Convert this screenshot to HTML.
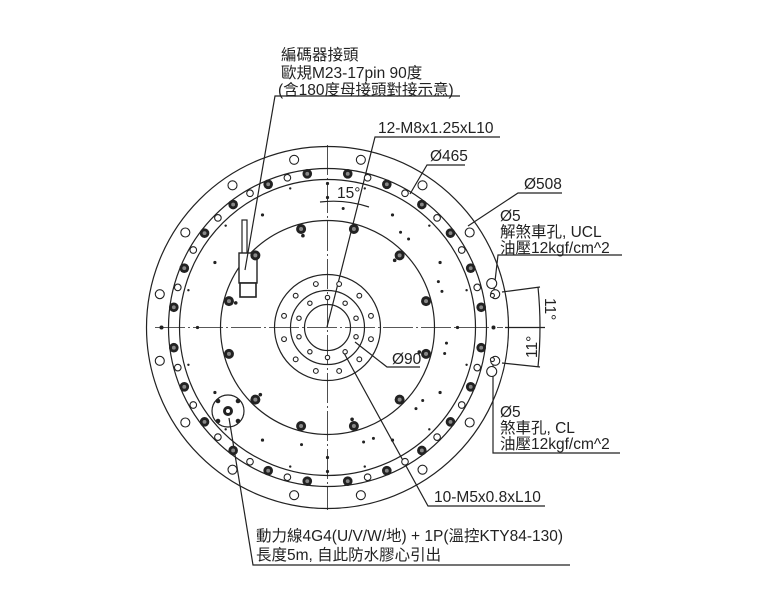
<!DOCTYPE html>
<html><head><meta charset="utf-8"><style>
html,body{margin:0;padding:0;background:#fff;width:768px;height:611px;overflow:hidden}
svg{display:block}
text{font-family:"Liberation Sans","Noto Sans CJK TC",sans-serif;font-size:15.5px;fill:#222}
</style></head><body>
<svg id="s" width="768" height="611" viewBox="0 0 768 611" xmlns="http://www.w3.org/2000/svg">
<g fill="none" stroke="#222" stroke-width="1.2">
<circle cx="327.5" cy="327.5" r="181"/>
<circle cx="327.5" cy="327.5" r="159"/>
<circle cx="327.5" cy="327.5" r="148"/>
<circle cx="327.5" cy="327.5" r="107"/>
<circle cx="327.5" cy="327.5" r="53"/>
<circle cx="327.5" cy="327.5" r="37"/>
<circle cx="327.5" cy="327.5" r="23"/>
<circle cx="228" cy="411" r="16"/>
<line x1="155" y1="327.5" x2="503" y2="327.5" stroke-dasharray="30,3,2,3" stroke-width="0.8"/>
<line x1="327.5" y1="145" x2="327.5" y2="510" stroke-dasharray="30,3,2,3" stroke-width="0.8"/>
<rect x="242" y="220" width="5" height="34" fill="#fff"/>
<rect x="239" y="253" width="18" height="30" fill="#fff" stroke-width="1.4"/>
<rect x="240" y="283" width="16" height="14" fill="#fff" stroke-width="1.6"/>
<polyline points="460,96 275,96 245,270"/>
<polyline points="500,137 375,137 327,327"/>
<polyline points="465,165 427,165 410,194"/>
<polyline points="562,193 518,193 468,226"/>
<polyline points="622,255 498,255 494,290"/>
<polyline points="620,453 493,453 493,362"/>
<polyline points="545,506 428,506 344,353"/>
<polyline points="420,367 387,367 355,342"/>
<polyline points="570,565 253,565 229,418"/>
<line x1="502" y1="292" x2="540" y2="287"/>
<line x1="502" y1="363" x2="540" y2="367"/>
<path d="M538,287 Q542,327 538,367"/>
<line x1="505" y1="327.5" x2="545" y2="327.5"/>
<path d="M320,202 Q345,199 369,207"/>
</g>
<g id="holes"></g>
<text x="281" y="60">編碼器接頭</text>
<text x="281" y="78">歐規M23-17pin 90度</text>
<text x="278" y="95">(含180度母接頭對接示意)</text>
<text x="378" y="133">12-M8x1.25xL10</text>
<text x="430" y="161">Ø465</text>
<text x="524" y="189">Ø508</text>
<text x="337" y="198">15°</text>
<text x="500" y="221">Ø5</text>
<text x="500" y="237">解煞車孔, UCL</text>
<text x="500" y="253">油壓12kgf/cm^2</text>
<text x="392" y="364">Ø90</text>
<text transform="translate(545,298) rotate(90)">11°</text>
<text transform="translate(537,358) rotate(-90)">11°</text>
<text x="500" y="417">Ø5</text>
<text x="500" y="433">煞車孔, CL</text>
<text x="500" y="449">油壓12kgf/cm^2</text>
<text x="434" y="502">10-M5x0.8xL10</text>
<text x="256" y="541">動力線4G4(U/V/W/地) + 1P(溫控KTY84-130)</text>
<text x="256" y="560">長度5m, 自此防水膠心引出</text>
</svg>
<script>
var g=document.getElementById('holes'),cx=327.5,cy=327.5,h='';
function P(r,a){a=(a-90)*Math.PI/180;return [cx+r*Math.cos(a),cy+r*Math.sin(a)];}
function dark(r,a,R){var p=P(r,a);h+='<circle cx="'+p[0]+'" cy="'+p[1]+'" r="'+R+'" fill="#222"/><circle cx="'+p[0]+'" cy="'+p[1]+'" r="'+(R*0.4)+'" fill="#888"/>';}
function open(r,a,R){var p=P(r,a);h+='<circle cx="'+p[0]+'" cy="'+p[1]+'" r="'+R+'" fill="#fff" stroke="#222" stroke-width="1.1"/>';}
function dot(r,a,R){var p=P(r,a);h+='<circle cx="'+p[0]+'" cy="'+p[1]+'" r="'+R+'" fill="#222"/>';}
for(var k=0;k<24;k++){dark(155,7.5+15*k,4.8);}
for(var k=0;k<24;k++){if(k%6!=0)open(155,15*k,3.3);}
for(var k=0;k<16;k++){open(171,11.25+22.5*k,4.5);}
for(var k=0;k<12;k++){dark(102,15+30*k,5);dot(130,30*k,1.6);dot(120,15*k+7.5+(k%2?20:0),1.5);}
for(var k=0;k<12;k++){dot(144,30*k+15,1.2);}
dot(166,90,2);dot(166,270,2);dot(144,0,1.6);dot(144,180,1.6);
for(var k=0;k<12;k++){open(45,30*k+15,2.4);}
for(var k=0;k<10;k++){open(30,36*k,2.2);}
for(var k=0;k<6;k++){dot(95,60*k+45,1.8);}
open(170,75,5);open(170,105,5);open(168,79,2);open(168,101,2);
h+='<circle cx="228" cy="411" r="5" fill="#222"/><circle cx="228" cy="411" r="2" fill="#fff"/>';
[[218,401],[238,401],[218,421],[238,421]].forEach(function(q){h+='<circle cx="'+q[0]+'" cy="'+q[1]+'" r="2.3" fill="#222"/>';});
g.innerHTML=h;
</script>
</body></html>
